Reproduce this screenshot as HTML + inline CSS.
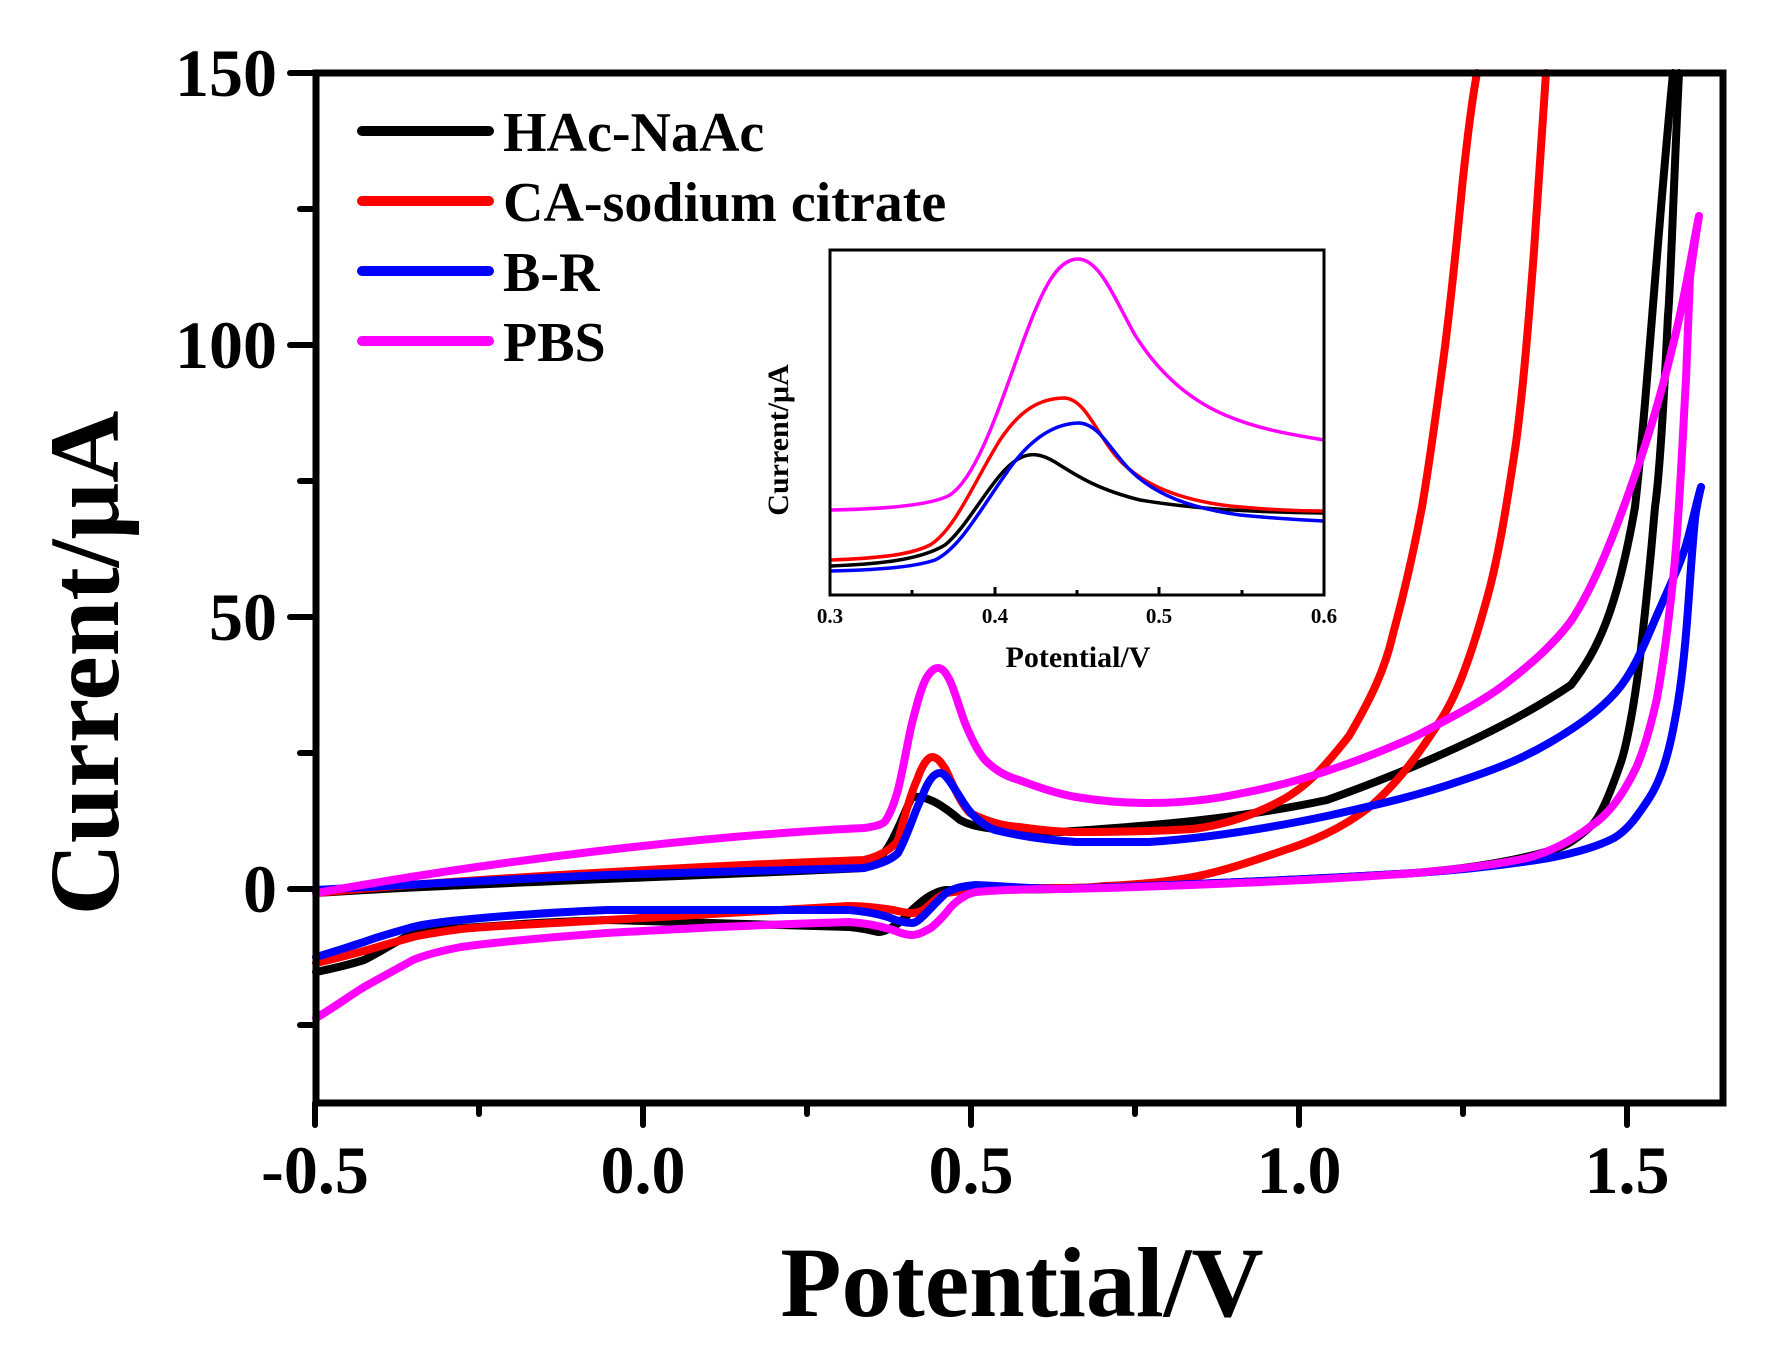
<!DOCTYPE html>
<html><head><meta charset="utf-8"><style>
html,body{margin:0;padding:0;background:#fff;}
svg{display:block;}
text{font-family:"Liberation Serif",serif;font-weight:bold;fill:#000;}
</style></head><body>
<svg width="1782" height="1348" viewBox="0 0 1782 1348" xmlns="http://www.w3.org/2000/svg">
<rect width="1782" height="1348" fill="#fff"/>
<g fill="none" stroke-width="8" stroke-linejoin="round" stroke-linecap="round">
<path stroke="#000" d="M316,893 C450,884 700,876 864,868 C890,860 900,820 912,797 C925,795 940,803 960,820 C975,828 990,830 1060,832 C1150,826 1238,819 1327,800 C1416,768 1504,730 1571,685 C1598,650 1617,610 1635,507 C1647,400 1656,250 1673,73"/>
<path stroke="#000" d="M1679,73 C1673,200 1670,300 1668,315 C1663,420 1659,480 1655,507 C1648,590 1642,640 1639,666 C1632,720 1625,750 1621,762 C1608,800 1598,820 1591,826 C1570,845 1560,848 1549,851 C1500,865 1450,870 1415,873 C1300,880 1150,886 1060,889 C1000,890 960,890 946,890 C930,892 918,905 912,910 C900,925 885,932 878,932 C870,930 860,928 849,927 C750,924 680,922 607,920 C550,922 520,924 510,925 C460,928 430,930 413,933 C390,945 375,955 364,960 C345,966 330,969 316,972"/>
<path stroke="#f00" d="M316,893 C450,880 700,866 864,860 C885,855 895,845 898,840 C905,815 912,790 917,780 C922,765 928,757 932,757 C938,757 942,764 946,770 C955,790 962,805 970,813 C990,823 1005,826 1019,827 C1040,830 1060,832 1076,832 C1120,832 1160,831 1193,829 C1230,824 1260,812 1282,800 C1310,785 1330,760 1349,736 C1370,700 1385,670 1393,634 C1405,590 1414,550 1422,507 C1430,460 1438,400 1445,347 C1452,290 1457,240 1462,188 C1467,140 1472,100 1477,73"/>
<path stroke="#f00" d="M1546,73 C1541,140 1538,200 1534,251 C1528,330 1523,390 1516,443 C1506,510 1498,560 1486,602 C1470,660 1455,700 1438,724 C1415,760 1395,785 1371,806 C1340,830 1310,842 1282,851 C1250,862 1220,872 1193,877 C1160,883 1130,885 1104,886 C1090,888 1075,888 1060,888 C1010,888 980,888 946,893 C935,898 930,905 927,907 C922,912 916,913 912,913 C905,913 898,911 893,910 C880,908 865,906 849,906 C750,912 680,916 607,920 C540,924 490,926 461,929 C440,932 425,934 413,937 C395,942 380,946 364,951 C345,956 330,960 316,963"/>
<path stroke="#00f" d="M316,890 C450,882 520,879 607,875 C700,872 800,870 864,868 C885,863 893,858 898,853 C908,835 915,810 922,797 C928,780 934,773 940,773 C946,773 952,785 960,797 C970,815 982,825 995,830 C1020,836 1045,840 1076,842 C1100,842 1125,842 1149,842 C1210,838 1270,828 1327,816 C1380,804 1420,795 1460,781 C1500,768 1525,757 1549,743 C1580,725 1600,710 1616,692 C1635,670 1646,640 1657,615 C1670,585 1680,565 1686,545 C1692,525 1697,500 1701,487"/>
<path stroke="#00f" d="M1701,487 C1698,500 1696,510 1695,519 C1691,560 1689,600 1686,634 C1682,680 1678,705 1673,730 C1666,765 1658,785 1648,800 C1638,815 1628,830 1614,838 C1595,848 1570,854 1549,858 C1500,866 1460,870 1415,873 C1300,880 1150,886 1060,889 C1020,888 1000,886 976,885 C962,886 952,889 946,893 C935,903 928,912 922,917 C918,921 915,923 912,923 C905,923 895,920 888,917 C875,913 862,911 849,910 C750,910 680,910 607,910 C540,913 490,917 461,920 C440,922 425,924 413,927 C395,932 380,936 364,942 C345,948 330,953 316,957"/>
<path stroke="#f0f" d="M316,893 C500,860 700,836 864,828 C878,826 884,824 886,820 C892,810 895,800 898,790 C904,765 908,740 912,723 C918,700 922,685 927,677 C931,671 934,668 938,668 C943,668 947,674 951,683 C956,695 960,710 965,723 C972,740 978,752 985,760 C995,770 1005,776 1019,780 C1040,788 1058,794 1076,797 C1100,801 1125,803 1149,803 C1180,803 1210,800 1238,794 C1270,788 1300,780 1327,771 C1360,760 1390,748 1416,736 C1450,718 1480,703 1504,685 C1530,665 1553,645 1571,621 C1595,585 1616,530 1635,475 C1651,430 1665,380 1677,328 C1687,285 1694,240 1699,216"/>
<path stroke="#f0f" d="M1699,216 C1695,240 1692,262 1690,277 C1688,320 1687,350 1686,379 C1682,450 1679,520 1674,570 C1669,620 1663,665 1657,698 C1651,725 1644,750 1636,768 C1623,795 1608,815 1591,826 C1570,842 1550,852 1527,858 C1490,866 1450,870 1415,873 C1350,878 1290,881 1238,883 C1170,886 1110,888 1060,889 C1030,889 1000,890 976,892 C962,895 952,905 946,913 C938,922 932,928 927,930 C920,934 916,935 912,935 C905,935 898,932 893,930 C880,926 865,923 849,922 C750,925 680,929 607,933 C540,938 490,943 461,947 C440,951 425,955 413,960 C395,970 380,978 364,987 C345,999 330,1010 316,1018"/>
</g>
<rect x="316" y="73" width="1407" height="1030" fill="none" stroke="#000" stroke-width="7"/>
<g stroke="#000" stroke-width="6" stroke-linecap="round">
<line x1="290" y1="73" x2="316" y2="73"/><line x1="290" y1="345" x2="316" y2="345"/><line x1="290" y1="617" x2="316" y2="617"/><line x1="290" y1="889" x2="316" y2="889"/>
<line x1="300" y1="209" x2="316" y2="209"/><line x1="300" y1="481" x2="316" y2="481"/><line x1="300" y1="753" x2="316" y2="753"/><line x1="300" y1="1025" x2="316" y2="1025"/>
<line x1="315" y1="1103" x2="315" y2="1125"/><line x1="643" y1="1103" x2="643" y2="1125"/><line x1="971" y1="1103" x2="971" y2="1125"/><line x1="1299" y1="1103" x2="1299" y2="1125"/><line x1="1627" y1="1103" x2="1627" y2="1125"/>
<line x1="479" y1="1103" x2="479" y2="1114"/><line x1="807" y1="1103" x2="807" y2="1114"/><line x1="1135" y1="1103" x2="1135" y2="1114"/><line x1="1463" y1="1103" x2="1463" y2="1114"/>
</g>
<g font-size="68" text-anchor="end">
<text x="277" y="96">150</text><text x="277" y="368">100</text><text x="277" y="640">50</text><text x="277" y="912">0</text>
</g>
<g font-size="68" text-anchor="middle">
<text x="315" y="1193">-0.5</text><text x="643" y="1193">0.0</text><text x="971" y="1193">0.5</text><text x="1299" y="1193">1.0</text><text x="1627" y="1193">1.5</text>
</g>
<text x="1022" y="1316" font-size="100" text-anchor="middle">Potential/V</text>
<text transform="translate(118,663) rotate(-90)" font-size="100" text-anchor="middle">Current/μA</text>
<g stroke-width="10" stroke-linecap="round">
<line x1="362" y1="131" x2="489" y2="131" stroke="#000"/>
<line x1="362" y1="201" x2="489" y2="201" stroke="#f00"/>
<line x1="362" y1="271" x2="489" y2="271" stroke="#00f"/>
<line x1="362" y1="341" x2="489" y2="341" stroke="#f0f"/>
</g>
<g font-size="56">
<text x="503" y="151">HAc-NaAc</text><text x="503" y="221">CA-sodium citrate</text><text x="503" y="291">B-R</text><text x="503" y="361">PBS</text>
</g>
<rect x="830" y="250" width="494" height="345" fill="#fff" stroke="#000" stroke-width="3"/>
<g fill="none" stroke-width="3.5">
<path stroke="#f0f" d="M831,510 C880,509 930,506 950,495 C975,478 995,420 1020,350 C1040,295 1055,259 1078,259 C1100,259 1115,300 1135,335 C1160,375 1190,400 1225,415 C1260,430 1295,435 1324,440"/>
<path stroke="#000" d="M831,566 C880,564 920,560 945,545 C970,525 995,470 1020,458 C1030,453 1040,453 1055,462 C1080,478 1100,490 1140,500 C1200,510 1260,512 1324,513"/>
<path stroke="#f00" d="M831,560 C880,558 910,555 930,545 C955,530 975,480 1000,440 C1020,410 1040,398 1065,398 C1085,400 1095,430 1115,455 C1140,485 1180,500 1230,506 C1270,510 1300,511 1324,511"/>
<path stroke="#00f" d="M831,571 C880,570 915,567 935,560 C960,548 980,510 1005,475 C1025,445 1050,423 1080,423 C1100,425 1110,450 1130,470 C1155,495 1190,508 1240,515 C1280,519 1305,520 1324,521"/>
</g>
<rect x="830" y="250" width="494" height="345" fill="none" stroke="#000" stroke-width="3"/>
<g stroke="#000" stroke-width="3">
<line x1="995" y1="595" x2="995" y2="587"/><line x1="1159" y1="595" x2="1159" y2="587"/>
<line x1="912" y1="595" x2="912" y2="590"/><line x1="1077" y1="595" x2="1077" y2="590"/><line x1="1242" y1="595" x2="1242" y2="590"/>
</g>
<g font-size="21" text-anchor="middle">
<text x="830" y="623">0.3</text><text x="995" y="623">0.4</text><text x="1159" y="623">0.5</text><text x="1324" y="623">0.6</text>
</g>
<text x="1078" y="667" font-size="30" text-anchor="middle">Potential/V</text>
<text transform="translate(788,440) rotate(-90)" font-size="30" text-anchor="middle">Current/μA</text>
</svg>
</body></html>
